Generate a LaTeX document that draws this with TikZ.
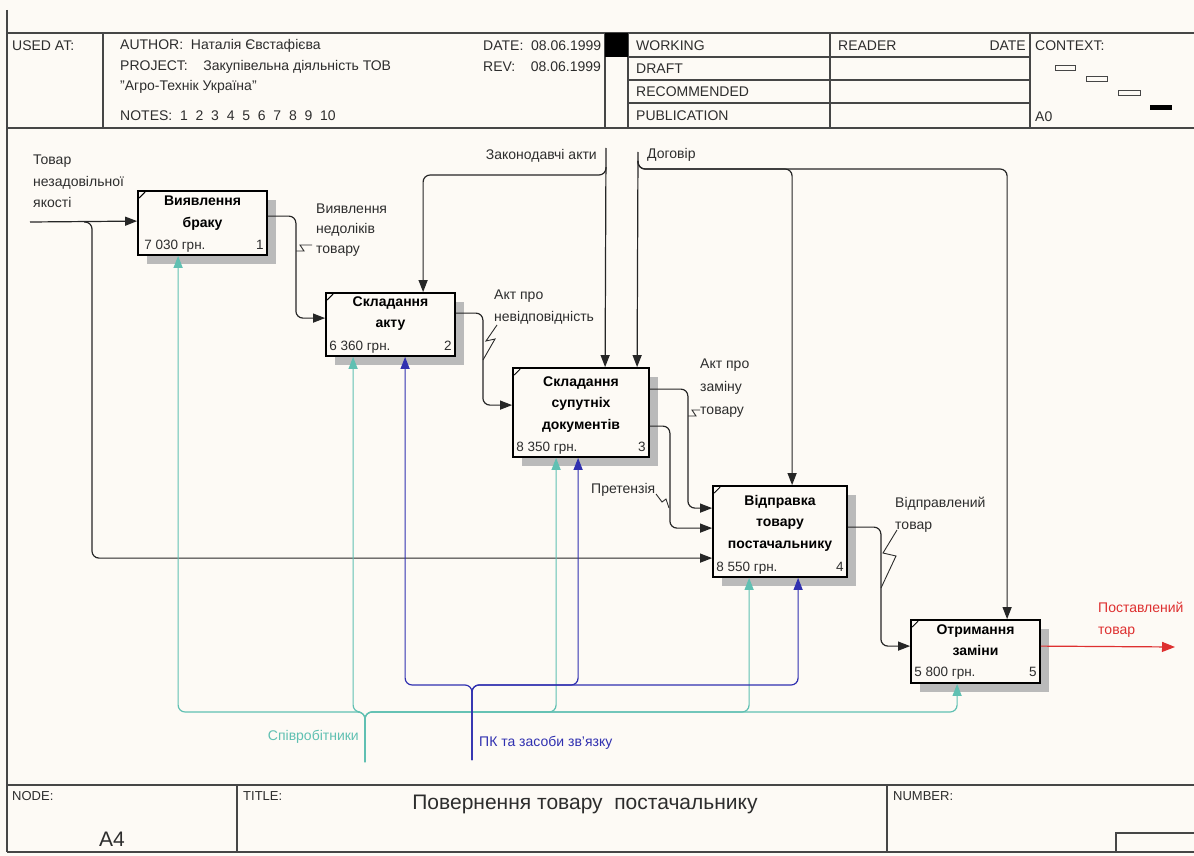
\documentclass[tikz,border=0pt]{standalone}
\usepackage{fontspec}
\setmainfont{Liberation Sans}
\usetikzlibrary{arrows.meta,calc,shadows}

\definecolor{paper}{RGB}{253,250,245}
\definecolor{ink}{RGB}{45,45,45}
\definecolor{rulecol}{RGB}{70,70,70}
\definecolor{staffcol}{RGB}{96,192,178}
\definecolor{toolcol}{RGB}{48,48,176}
\definecolor{outred}{RGB}{222,48,48}
\definecolor{shade}{RGB}{186,186,186}

\begin{document}
\begin{tikzpicture}[x=1pt,y=-1pt,
  frameline/.style={draw=rulecol, line width=1.1pt},
  hdr/.style={anchor=west, inner sep=0, text=ink, font=\fontsize{14}{16}\selectfont},
  lbl/.style={anchor=north west, inner sep=0, align=left, text=ink, font=\fontsize{14}{21.5}\selectfont},
  lblone/.style={inner sep=0, text=ink, font=\fontsize{14}{16}\selectfont},
  act/.style={draw=black, line width=1.8pt, fill=paper, inner sep=0,
     drop shadow={shadow xshift=9pt, shadow yshift=-9pt, fill=shade, opacity=1}},
  ttl/.style={anchor=north, inner sep=0, align=center, font=\bfseries\fontsize{14}{21.5}\selectfont},
  cost/.style={anchor=base west, inner sep=0, text=ink, font=\fontsize{13.5}{15}\selectfont},
  num/.style={anchor=base east, inner sep=0, text=ink, font=\fontsize{13.5}{15}\selectfont},
  tip/.style={-{Triangle[length=12pt,width=9pt]}},
  flow/.style={draw=black!85, line width=1.2pt, rounded corners=7pt, tip},
  staffflow/.style={flow, draw=staffcol, -{Triangle[length=12pt,width=9pt,fill=staffcol]}},
  toolflow/.style={flow, draw=toolcol, -{Triangle[length=12pt,width=9pt,fill=toolcol]}},
  outflow/.style={flow, draw=outred, -{Triangle[length=13pt,width=10pt,fill=outred]}},
  squig/.style={draw=ink, line width=0.9pt},
  cornermark/.style={draw=black, line width=1pt}
]
% canvas
\useasboundingbox (0,0) rectangle (1194,856);
\fill[paper] (0,0) rectangle (1194,856);

% ---------- header form ----------
\draw[frameline] (7,10) -- (7,852);
\draw[frameline] (7,33) -- (1194,33);
\draw[frameline] (7,128) -- (1194,128);
\foreach \xx in {103,605,628,830,1030} \draw[frameline] (\xx,33) -- (\xx,128);
\foreach \yy in {57,80,103} \draw[frameline] (628,\yy) -- (1030,\yy);
\fill[black] (605,33) rectangle (628,57);

\node[hdr] (usedat) at (12,46) {USED AT:};
\node[hdr] (author) at (120,46) {AUTHOR:\ \ Наталія Євстафієва};
\node[hdr] (project) at (120,67) {PROJECT:\ \ \ \ Закупівельна діяльність ТОВ};
\node[hdr] (project2) at (120,87) {"Агро-Технік Україна"};
\node[hdr] (notes) at (120,116) {NOTES:\ \ 1\ \ 2\ \ 3\ \ 4\ \ 5\ \ 6\ \ 7\ \ 8\ \ 9\ \ 10};
\node[hdr] (date) at (483,46) {DATE:\ \ 08.06.1999};
\node[hdr] (rev) at (483,67) {REV:\ \ \ \ 08.06.1999};
\node[hdr] (working) at (636,46) {WORKING};
\node[hdr] (draft) at (636,69) {DRAFT};
\node[hdr] (recommended) at (636,92) {RECOMMENDED};
\node[hdr] (publication) at (636,116) {PUBLICATION};
\node[hdr] (reader) at (838,46) {READER};
\node[hdr, anchor=east] (rdate) at (1026,46) {DATE};
\node[hdr] (context) at (1035,46) {CONTEXT:};
\node[hdr] (ctxnode) at (1035,117) {A0};
% context thumbnail
\draw[rulecol, line width=0.9pt] (1055,65) rectangle (1075,70);
\draw[rulecol, line width=0.9pt] (1086,76) rectangle (1107,81);
\draw[rulecol, line width=0.9pt] (1118,90) rectangle (1140,95);
\fill[black] (1150,105) rectangle (1172,110);

% ---------- footer form ----------
\draw[frameline] (7,785) -- (1194,785);
\draw[frameline] (7,852) -- (1194,852);
\draw[frameline] (237,785) -- (237,852);
\draw[frameline] (887,785) -- (887,852);
\draw[frameline] (1194,833) -- (1116,833) -- (1116,852);
\node[hdr, font=\fontsize{13}{15}\selectfont] (nodelbl) at (12,796) {NODE:};
\node[hdr, anchor=center, font=\fontsize{21}{24}\selectfont] (nodeid) at (112,839) {A4};
\node[hdr, font=\fontsize{13}{15}\selectfont] (titlelbl) at (243,796) {TITLE:};
\node[hdr, anchor=center, font=\fontsize{21}{24}\selectfont] (title) at (585,804) {Повернення товару\ \ постачальнику};
\node[hdr, font=\fontsize{13}{15}\selectfont] (numberlbl) at (893,796) {NUMBER:};

% ---------- activity boxes ----------
\node[act, minimum width=129pt, minimum height=64pt] (b1) at (202.5,223) {};
\node[act, minimum width=129pt, minimum height=63pt] (b2) at (390.5,324.5) {};
\node[act, minimum width=136pt, minimum height=89pt] (b3) at (581,412.5) {};
\node[act, minimum width=134pt, minimum height=91pt] (b4) at (780,531.5) {};
\node[act, minimum width=129pt, minimum height=63pt] (b5) at (975.5,651.5) {};

\foreach \b in {b1,b2,b3,b4,b5}
  \draw[cornermark] ([shift={(2pt,-8pt)}]\b.north west) -- ([shift={(8pt,-2pt)}]\b.north west);

\node[ttl] (t1) at ([yshift=-6pt]b1.north) {Виявлення\\браку};
\node[ttl] (t2) at ([yshift=-4pt]b2.north) {Складання\\акту};
\node[ttl] (t3) at ([yshift=-9pt]b3.north) {Складання\\супутніх\\документів};
\node[ttl] (t4) at ([yshift=-10pt]b4.north) {Відправка\\товару\\постачальнику};
\node[ttl] (t5) at ([yshift=-5pt]b5.north) {Отримання\\заміни};

\node[cost] (c1) at ([shift={(7pt,6pt)}]b1.south west) {7 030 грн.};
\node[cost] (c2) at ([shift={(4pt,6pt)}]b2.south west) {6 360 грн.};
\node[cost] (c3) at ([shift={(4pt,6pt)}]b3.south west) {8 350 грн.};
\node[cost] (c4) at ([shift={(4pt,6pt)}]b4.south west) {8 550 грн.};
\node[cost] (c5) at ([shift={(4pt,7pt)}]b5.south west) {5 800 грн.};
\node[num] (n1) at ([shift={(-4pt,6pt)}]b1.south east) {1};
\node[num] (n2) at ([shift={(-4pt,6pt)}]b2.south east) {2};
\node[num] (n3) at ([shift={(-4pt,6pt)}]b3.south east) {3};
\node[num] (n4) at ([shift={(-4pt,6pt)}]b4.south east) {4};
\node[num] (n5) at ([shift={(-4pt,7pt)}]b5.south east) {5};

% ---------- free ends ----------
\coordinate (src1) at (30,222);
\coordinate (fork1) at (84,222);
\coordinate (sink) at (1175,647);
\coordinate (law) at (606,148);
\coordinate (lawfork) at (606,167);
\coordinate (contract) at (638,152);
\coordinate (cfork) at (638,161);
\coordinate (staffsrc) at (365,762);
\coordinate (toolsrc) at (472,760);

% ---------- inputs and outputs ----------
\draw[flow] (src1) -- ([yshift=-31pt]b1.north west);
\draw[flow] (fork1) -- ++(8,0) |- ([yshift=-73pt]b4.north west);
\draw[flow] ([yshift=-26pt]b1.north east) -- ++(28,0) |- ([yshift=-26pt]b2.north west);
\draw[flow] ([yshift=-21pt]b2.north east) -- ++(27,0) |- ([yshift=-38pt]b3.north west);
\draw[flow] ([yshift=-22pt]b3.north east) -- ++(38,0) |- ([yshift=-23pt]b4.north west);
\draw[flow] ([yshift=-59pt]b3.north east) -- ++(20,0) |- ([yshift=-43pt]b4.north west);
\draw[flow] ([yshift=-42pt]b4.north east) -- ++(33,0) |- ([yshift=-27pt]b5.north west);
\draw[outflow] ([yshift=-27pt]b5.north east) -- (sink);

% ---------- controls ----------
\draw[flow] (law) -- ([xshift=93pt]b3.north west);
\draw[flow] (lawfork) -- ++(0,8) -| ([xshift=98pt]b2.north west);
\draw[flow] (contract) -- ([xshift=125pt]b3.north west);
\draw[flow] (cfork) -- ++(0,8) -| ([xshift=80pt]b4.north west);
\draw[flow] (cfork) -- ++(0,8) -| ([xshift=97pt]b5.north west);

% ---------- mechanisms ----------
\foreach \b/\dx in {b1/41,b2/28,b3/44,b4/37,b5/47}
  \draw[staffflow] (staffsrc) -- ++(0,-50) -| ([xshift=\dx pt]\b.south west);
\foreach \b/\dx in {b2/80,b3/66,b4/86}
  \draw[toolflow] (toolsrc) -- ++(0,-75) -| ([xshift=\dx pt]\b.south west);

% ---------- arrow labels ----------
\node[lbl] (l-in) at (33,155) {Товар\\незадовільної\\якості};
\node[lbl, font=\fontsize{14}{20}\selectfont] (l-def) at (316,204) {Виявлення\\недоліків\\товару};
\node[lbl] (l-act) at (494,290) {Акт про\\невідповідність};
\node[lblone, anchor=east] (l-law) at (597,156) {Законодавчі акти};
\node[lblone, anchor=west] (l-contract) at (647,155) {Договір};
\node[lbl, font=\fontsize{14}{23}\selectfont] (l-swap) at (700,359) {Акт про\\заміну\\товару};
\node[lblone, anchor=west] (l-claim) at (591,490) {Претензія};
\node[lbl] (l-sent) at (895,497) {Відправлений\\товар};
\node[lbl, text=outred] (l-out) at (1098,602) {Поставлений\\товар};
\node[lblone, anchor=east, text=staffcol] (l-staff) at (359,737) {Співробітники};
\node[lblone, anchor=west, text=toolcol] (l-tools) at (479,743) {ПК та засоби зв'язку};

% label leaders
\draw[squig] (296,251) -- (304,251) -- (300,245) -- (312,245);
\draw[squig] (497,325) -- (486,341) -- (495,339) -- (483,360);
\draw[squig] (688,416) -- (696,416) -- (692,410) -- (700,410);
\draw[squig] (656,494) -- (662,502) -- (666,499) -- (669,508);
\draw[squig] (897,530) -- (883,553) -- (896,556) -- (881,588);
\end{tikzpicture}
\end{document}
